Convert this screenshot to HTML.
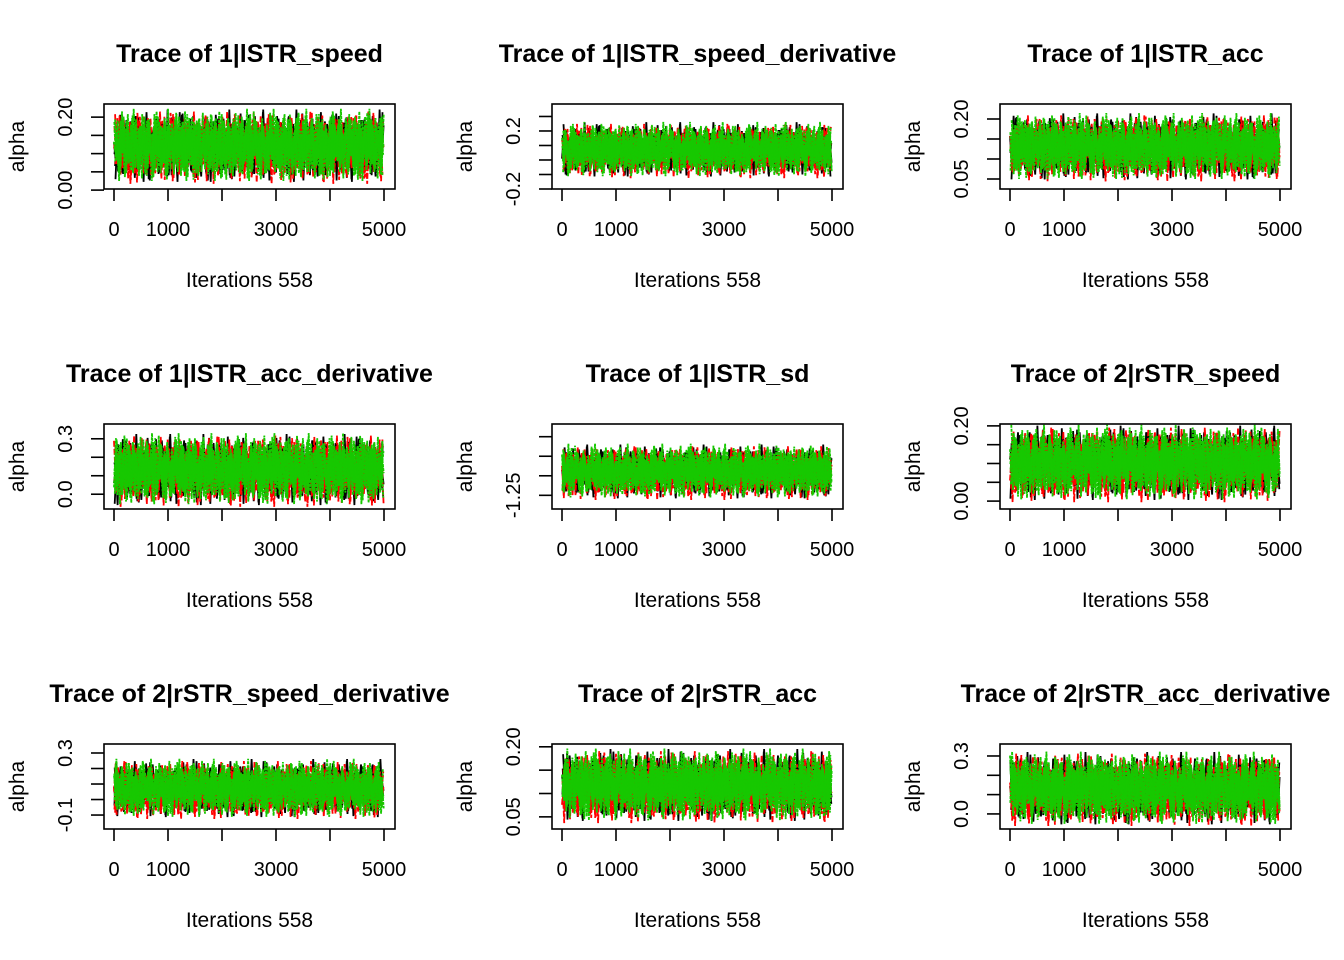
<!DOCTYPE html>
<html><head><meta charset="utf-8"><style>
html,body{margin:0;padding:0;background:#fff}
svg{display:block;font-family:"Liberation Sans",Arial,sans-serif}
</style></head><body>
<svg id="chart" width="1344" height="960" viewBox="0 0 1344 960" xmlns="http://www.w3.org/2000/svg"></svg>
<script>
// ---- data ----
const titles = ["Trace of 1|lSTR_speed","Trace of 1|lSTR_speed_derivative","Trace of 1|lSTR_acc","Trace of 1|lSTR_acc_derivative","Trace of 1|lSTR_sd","Trace of 2|rSTR_speed","Trace of 2|rSTR_speed_derivative","Trace of 2|rSTR_acc","Trace of 2|rSTR_acc_derivative"];
const yMins = [0.003,-0.2,0.025,-0.08,-1.285,-0.021,-0.19,0.024,-0.078];
const yMaxs = [0.236,0.386,0.2375,0.38,-1.0675,0.205,0.358,0.206,0.362];
const yTicks = [[0,0.05,0.1,0.15,0.2],[-0.2,-0.1,0,0.1,0.2,0.3],[0.05,0.1,0.15,0.2],[0,0.1,0.2,0.3],[-1.25,-1.2,-1.15,-1.1],[0,0.05,0.1,0.15,0.2],[-0.1,0,0.1,0.2,0.3],[0.05,0.1,0.15,0.2],[0,0.1,0.2,0.3]];
const yTickLabels = [["0.00","","","","0.20"],["-0.2","","","","0.2",""],["0.05","","","0.20"],["0.0","","","0.3"],["-1.25","","",""],["0.00","","","","0.20"],["-0.1","","","","0.3"],["0.05","","","0.20"],["0.0","","","0.3"]];
const chainMeans = [[0.12,0.118,0.122],[0.07,0.065,0.072],[0.13,0.128,0.131],[0.13,0.128,0.135],[-1.19,-1.192,-1.188],[0.10,0.098,0.102],[0.07,0.065,0.072],[0.117,0.115,0.118],[0.13,0.128,0.132]];
const chainSds = [0.036,0.068,0.03,0.07,0.025,0.036,0.068,0.028,0.068];
const xTicks = [0,1000,2000,3000,4000,5000];
const xTickLabels = ["0","1000","","3000","","5000"];
const nIter = 5000;
const z1 = [0.3,-1.2,0.8,1.5,-0.4,-2.1,0.9,0.1,-0.7,1.9,-1.4,0.5,2.3,-0.2,-1.8,1.1,0.4,-0.9,1.6,-2.5,0.7,-0.3,1.2,-1.1,0.2,2.0,-1.6,0.6,-0.5,1.4,-2.2,0.0,1.7,-0.8,0.9,-1.3,2.6,-0.6,0.3,-1.9,1.0,-0.1,1.3,-2.0,0.8,-0.4,1.8,-1.5,0.5,-0.9,2.2,-1.0,0.1,-2.7,1.5,0.6,-0.7,1.1,-1.2,0.4,2.1,-0.3,-1.7,0.9,1.6,-0.6,-2.3,1.2,0.2,-1.1,1.9,-0.5,0.7,-1.4,2.4,-0.2,-1.0,1.3,0.0,-1.8,1.0,0.5,-2.4,1.7,-0.8,0.3,1.4,-1.3,0.6,-0.1,2.0,-1.6,0.8,-0.9,1.1,-2.1,0.4,1.8,-0.4,-1.2,2.8,-0.7,0.2,-1.5,1.5,-0.3,0.9,-2.0,1.2,0.1,-1.1,1.6,-0.6,-1.9,2.3,0.3,-0.8,1.0,-1.4,0.7,-0.2,1.9,-2.6,0.5,1.3,-1.0,0.0,2.1,-1.7,0.8,-0.5,1.4,-1.3,0.4,-2.2,1.7,0.2,-0.9,1.1,-1.6,2.5,-0.4,0.6,-1.2,1.8,-0.1,-2.0,0.9];
const z2 = [-0.5,1.3,-1.9,0.4,2.1,-0.8,-1.5,1.0,0.2,-2.3,1.7,-0.1,0.9,-1.2,2.4,-0.6,0.3,-1.7,1.2,0.6,-2.8,1.5,-0.3,0.8,-1.0,1.9,-0.4,-2.0,1.1,0.0,-1.3,2.2,-0.9,0.5,-1.6,1.4,0.2,-2.4,1.8,-0.7,0.7,-1.1,2.6,-0.2,-1.4,1.0,0.4,-2.1,1.6,-0.5,0.1,-1.8,2.0,-1.0,0.8,-0.3,1.3,-2.5,0.6,1.1,-1.3,0.3,2.3,-0.8,-1.6,0.9,-0.1,1.7,-2.2,0.5,-0.6,1.4,-1.1,2.7,-0.4,0.2,-1.9,1.2,-0.7,0.7,-2.6,1.9,0.1,-1.0,1.5,-0.2,-1.5,2.1,-0.9,0.4,-1.4,1.0,0.6,-2.0,1.8,-0.3,-1.2,0.8,2.4,-0.5,-1.7,1.3,0.0,-2.3,1.6,-0.6,0.9,-1.1,2.0,-0.8,0.3,-1.5,1.1,-0.2,2.5,-1.3,0.5,-2.1,1.4,-0.4,0.7,-1.8,1.9,-0.9,0.2,1.2,-2.7,0.6,-0.1,1.7,-1.4,0.4,2.2,-1.0,-0.5,1.5,-2.0,0.8,-0.3,1.0,-1.6,2.3,-0.7,0.1,-1.2,1.8,-2.4,0.5];
const z3 = [0.9,-0.6,1.8,-2.0,0.2,1.1,-1.3,0.5,-2.6,1.6,-0.4,0.7,-1.1,2.5,-0.9,0.0,1.4,-1.7,0.6,-0.2,2.1,-1.5,0.3,-0.8,1.9,-2.2,1.0,-0.1,1.3,-1.2,0.4,-1.9,2.3,-0.5,0.8,-1.4,1.5,-2.5,0.1,1.2,-0.7,2.0,-1.0,0.5,-1.6,1.7,-0.3,-2.1,1.1,0.6,-1.1,2.8,-0.6,0.2,-1.8,1.4,-0.4,0.9,-2.3,1.8,0.0,-1.3,1.0,-0.5,2.2,-1.6,0.3,-0.9,1.6,-2.0,0.7,-0.2,1.3,-1.4,2.4,-0.8,0.4,-1.7,1.1,-0.3,-2.4,1.9,0.5,-1.0,1.5,-0.6,2.0,-1.5,0.1,-0.9,1.7,-2.2,0.6,1.2,-1.1,0.3,-1.9,2.6,-0.4,-0.7,1.4,-1.3,0.8,-2.1,1.6,0.2,-0.5,1.0,-1.6,2.2,-0.2,-1.2,0.9,-2.7,1.3,0.4,-0.8,1.8,-1.4,0.0,2.1,-1.0,0.6,-1.8,1.2,-0.3,0.7,-2.0,1.9,-0.6,0.3,-1.5,2.4,-0.9,0.1,1.1,-1.7,0.5,-2.3,1.5,-0.4,0.8,-1.2,2.0,-0.1];
const chainDraws = [z1,z2,z3];

// ---- layout ----
const svg = document.getElementById('chart');
const NS = 'http://www.w3.org/2000/svg';
const colLeft = [104,552,1000], rowTop = [104,424,744];
const boxW = 291, boxH = 85;
const chainColors = ['#000000','#FF0000','#17C800'];
const chainDash = ['none','6,2','3,1'];
const passOffsets = [0,37,71,103,19,89,53];
function el(tag, attrs, parent){ const e=document.createElementNS(NS,tag); for(const k in attrs) e.setAttribute(k,attrs[k]); (parent||svg).appendChild(e); return e; }

titles.forEach((t, p) => {
  const c = p % 3, r = Math.floor(p / 3);
  const L = colLeft[c], T = rowTop[r], B = T + boxH, R = L + boxW;
  const xs = v => L + 10 + (v / nIter) * 270;
  const ys = v => B - (v - yMins[p]) / (yMaxs[p] - yMins[p]) * boxH;
  const g = el('g', {});
  
  
  const cid = 'clip' + p;
  const cp = el('clipPath', {id: cid}, g);
  el('rect', {x: L, y: T, width: boxW, height: boxH}, cp);
  chainDraws.forEach((z, ci) => {
    const n = z.length;
    const passes = ci === 2 ? 7 : 5;
    for (let k = 0; k < passes; k++) {
      const off = (p * 17 + passOffsets[k] + ci * 11) % n;
      let d = '';
      for (let i = 0; i < n; i++) {
        const v = chainMeans[p][ci] + chainSds[p] * z[(i + off) % n];
        const it = ((i + k / passes) / n) * nIter;
        d += (i ? 'L' : 'M') + xs(Math.min(it, nIter)).toFixed(1) + ',' + ys(v).toFixed(1);
      }
      const path = el('path', {d: d, fill: 'none', stroke: chainColors[ci], 'stroke-width': 1.8, 'stroke-dasharray': chainDash[ci], 'clip-path': 'url(#' + cid + ')'}, g);
      
      
    }
  });
  const box = el('rect', {x: L, y: T, width: boxW, height: boxH, fill: 'none', stroke: '#000', 'stroke-width': 1.6}, g);
  
  
  xTicks.forEach((v, i) => {
    const x = xs(v);
    el('line', {x1: x, x2: x, y1: B, y2: B + 12, stroke: '#000', 'stroke-width': 1.6}, g);
    if (xTickLabels[i]) {
      const tx = el('text', {x: x, y: B + 47, 'font-size': 20, 'text-anchor': 'middle'}, g);
      tx.textContent = xTickLabels[i];
      
      
    }
  });
  yTicks[p].forEach((v, i) => {
    const y = ys(v);
    el('line', {x1: L - 13, x2: L, y1: y, y2: y, stroke: '#000', 'stroke-width': 1.6}, g);
    if (yTickLabels[p][i]) {
      const tx = el('text', {x: 0, y: 0, 'font-size': 20, 'text-anchor': 'middle', transform: 'translate(' + (L - 32) + ',' + y + ') rotate(-90)'}, g);
      tx.textContent = yTickLabels[p][i];
      
      
    }
  });
  const cx = L + boxW / 2;
  const tt = el('text', {x: cx, y: T - 42, 'font-size': 25, 'font-weight': 'bold', 'text-anchor': 'middle'}, g);
  tt.textContent = t;
  
  
  const xl = el('text', {x: cx, y: B + 98, 'font-size': 21, 'text-anchor': 'middle'}, g);
  xl.textContent = 'Iterations 558';
  
  
  const yl = el('text', {x: 0, y: 0, 'font-size': 21, 'text-anchor': 'middle', transform: 'translate(' + (L - 80) + ',' + (T + boxH / 2) + ') rotate(-90)'}, g);
  yl.textContent = 'alpha';
  
  
});
</script>
</body></html>
